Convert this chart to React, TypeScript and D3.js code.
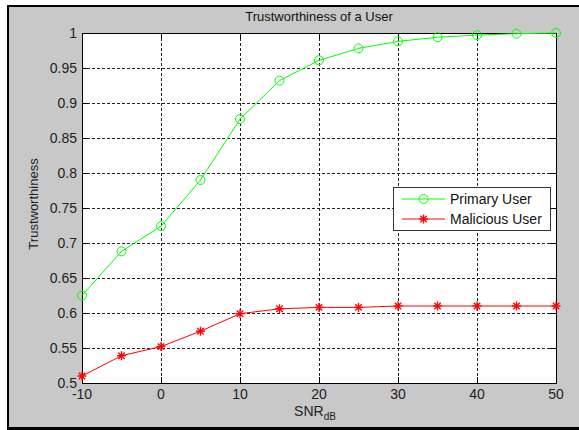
import React, { useRef, useEffect } from "react";
import * as d3 from "d3";

const snr = [-10, -5, 0, 5, 10, 15, 20, 25, 30, 35, 40, 45, 50];
const primaryUser = [0.625, 0.688, 0.724, 0.79, 0.877, 0.932, 0.961, 0.978, 0.988, 0.994, 0.997, 0.999, 1.0];
const maliciousUser = [0.51, 0.539, 0.552, 0.574, 0.599, 0.606, 0.608, 0.608, 0.61, 0.61, 0.61, 0.61, 0.61];
const xTicks = [-10, 0, 10, 20, 30, 40, 50];
const yTicks = [0.5, 0.55, 0.6, 0.65, 0.7, 0.75, 0.8, 0.85, 0.9, 0.95, 1];

const FONT = "'Liberation Sans', Arial, sans-serif";

function App() {
  const ref = useRef<SVGSVGElement>(null);

  useEffect(() => {
    const svg = d3.select(ref.current);
    svg.selectAll("*").remove();

    const W = 579;
    const H = 430;
    const plot = { left: 82, top: 33, right: 556, bottom: 383 };

    // figure frame
    svg.append("rect").attr("width", W).attr("height", H).attr("fill", "#fff");
    svg.append("rect").attr("x", 7).attr("y", 5).attr("width", W - 7).attr("height", 425).attr("fill", "#000");
    svg.append("rect").attr("x", 9).attr("y", 7).attr("width", W - 9).attr("height", 420).attr("fill", "#c8c8c8");

    const x = d3.scaleLinear().domain([-10, 50]).range([plot.left, plot.right]);
    const y = d3.scaleLinear().domain([0.5, 1]).range([plot.bottom, plot.top]);

    svg
      .append("rect")
      .attr("x", plot.left)
      .attr("y", plot.top)
      .attr("width", plot.right - plot.left)
      .attr("height", plot.bottom - plot.top)
      .attr("fill", "#fff");

    // grid
    const grid = svg.append("g").attr("stroke", "#222").attr("stroke-width", 1).attr("stroke-dasharray", "3,2");
    grid
      .selectAll("line.v")
      .data(xTicks.slice(1, -1))
      .enter()
      .append("line")
      .attr("x1", (d) => Math.round(x(d)) + 0.5)
      .attr("x2", (d) => Math.round(x(d)) + 0.5)
      .attr("y1", plot.top)
      .attr("y2", plot.bottom);
    grid
      .selectAll("line.h")
      .data(yTicks.slice(1, -1))
      .enter()
      .append("line")
      .attr("y1", (d) => Math.round(y(d)) + 0.5)
      .attr("y2", (d) => Math.round(y(d)) + 0.5)
      .attr("x1", plot.left)
      .attr("x2", plot.right);

    // box + inward ticks
    const axes = svg.append("g").attr("stroke", "#000").attr("stroke-width", 1);
    axes
      .append("rect")
      .attr("x", plot.left + 0.5)
      .attr("y", plot.top + 0.5)
      .attr("width", plot.right - plot.left)
      .attr("height", plot.bottom - plot.top)
      .attr("fill", "none");
    xTicks.forEach((t) => {
      const px = Math.round(x(t)) + 0.5;
      axes.append("line").attr("x1", px).attr("x2", px).attr("y1", plot.bottom).attr("y2", plot.bottom - 6);
      axes.append("line").attr("x1", px).attr("x2", px).attr("y1", plot.top).attr("y2", plot.top + 6);
    });
    yTicks.forEach((t) => {
      const py = Math.round(y(t)) + 0.5;
      axes.append("line").attr("y1", py).attr("y2", py).attr("x1", plot.left).attr("x2", plot.left + 6);
      axes.append("line").attr("y1", py).attr("y2", py).attr("x1", plot.right).attr("x2", plot.right - 6);
    });

    // tick labels
    svg
      .append("g")
      .selectAll("text")
      .data(xTicks)
      .enter()
      .append("text")
      .attr("x", (d) => x(d))
      .attr("y", plot.bottom + 16)
      .attr("text-anchor", "middle")
      .attr("font-family", FONT)
      .attr("font-size", 14)
      .attr("fill", "#222")
      .text((d) => d);
    svg
      .append("g")
      .selectAll("text")
      .data(yTicks)
      .enter()
      .append("text")
      .attr("x", plot.left - 5)
      .attr("y", (d) => y(d) + 5)
      .attr("text-anchor", "end")
      .attr("font-family", FONT)
      .attr("font-size", 14)
      .attr("fill", "#222")
      .text((d) => d3.format("~g")(d));

    // titles
    svg
      .append("text")
      .attr("x", (plot.left + plot.right) / 2)
      .attr("y", 21)
      .attr("text-anchor", "middle")
      .attr("font-family", FONT)
      .attr("font-size", 13)
      .attr("fill", "#111")
      .text("Trustworthiness of a User");
    const xl = svg
      .append("text")
      .attr("x", (plot.left + plot.right) / 2 - 4)
      .attr("y", 416)
      .attr("text-anchor", "middle")
      .attr("font-family", FONT)
      .attr("font-size", 14)
      .attr("fill", "#222");
    xl.append("tspan").text("SNR");
    xl.append("tspan").attr("font-size", 10).attr("dy", 4).text("dB");
    svg
      .append("text")
      .attr("transform", `translate(38,${(plot.top + plot.bottom) / 2 - 4}) rotate(-90)`)
      .attr("text-anchor", "middle")
      .attr("font-family", FONT)
      .attr("font-size", 13)
      .attr("fill", "#222")
      .text("Trustworthiness");

    const line = d3
      .line<number>()
      .x((d, i) => x(snr[i]))
      .y((d) => y(d));

    const green = "#00ff00";
    const red = "#ff0000";

    svg.append("path").datum(primaryUser).attr("d", line).attr("fill", "none").attr("stroke", green).attr("stroke-width", 1);
    svg.append("path").datum(maliciousUser).attr("d", line).attr("fill", "none").attr("stroke", red).attr("stroke-width", 1);

    const circle = (g, cx, cy) =>
      g.append("circle").attr("cx", cx).attr("cy", cy).attr("r", 4.5).attr("fill", "none").attr("stroke", green).attr("stroke-width", 1);
    const star = (g, cx, cy) => {
      const s = 4.5;
      const d = 3.2;
      const p = g.append("g").attr("stroke", red).attr("stroke-width", 1.4);
      p.append("line").attr("x1", cx - s).attr("x2", cx + s).attr("y1", cy).attr("y2", cy);
      p.append("line").attr("x1", cx).attr("x2", cx).attr("y1", cy - s).attr("y2", cy + s);
      p.append("line").attr("x1", cx - d).attr("x2", cx + d).attr("y1", cy - d).attr("y2", cy + d);
      p.append("line").attr("x1", cx - d).attr("x2", cx + d).attr("y1", cy + d).attr("y2", cy - d);
    };

    primaryUser.forEach((v, i) => circle(svg, x(snr[i]), y(v)));
    maliciousUser.forEach((v, i) => star(svg, x(snr[i]), y(v)));

    // legend
    const lg = svg.append("g").attr("transform", "translate(393,187)");
    lg.append("rect").attr("x", 0.5).attr("y", 0.5).attr("width", 157).attr("height", 43).attr("fill", "#fff").attr("stroke", "#333");
    const entries = [
      { label: "Primary User", color: green, mark: "o" },
      { label: "Malicious User", color: red, mark: "*" },
    ];
    entries.forEach((e, i) => {
      const cy = 12 + i * 20;
      lg.append("line").attr("x1", 9).attr("x2", 52).attr("y1", cy).attr("y2", cy).attr("stroke", e.color);
      if (e.mark === "o") circle(lg, 30.5, cy);
      else star(lg, 30.5, cy);
      lg.append("text")
        .attr("x", 57)
        .attr("y", cy + 5)
        .attr("font-family", FONT)
        .attr("font-size", 14)
        .attr("fill", "#111")
        .text(e.label);
    });
  }, []);

  return (
    <svg ref={ref} width={579} height={430} style={{ position: "absolute", left: 0, top: 0 }}></svg>
  );
}

export default App;
